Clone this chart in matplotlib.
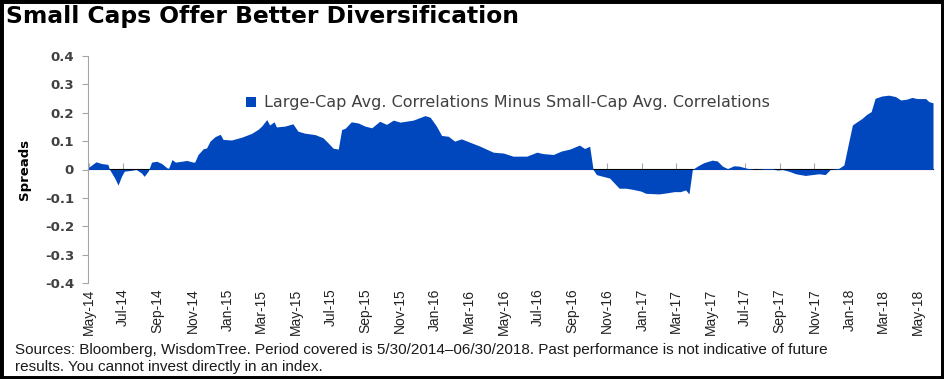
import matplotlib
matplotlib.use("Agg")
import matplotlib.pyplot as plt
from matplotlib.patches import Rectangle
import pandas as pd

# spread series (large-cap minus small-cap avg. correlation)
dates = [
    "2014-05-30", "2014-06-13", "2014-06-23", "2014-07-04", "2014-07-07", "2014-07-16",
    "2014-07-22", "2014-07-28", "2014-08-02", "2014-08-14", "2014-08-23", "2014-09-01",
    "2014-09-06", "2014-09-13", "2014-09-19", "2014-09-28", "2014-10-07", "2014-10-16",
    "2014-10-19", "2014-10-25", "2014-10-31", "2014-11-11", "2014-11-20", "2014-12-01",
    "2014-12-04", "2014-12-10", "2014-12-19", "2014-12-25", "2014-12-31", "2015-01-09",
    "2015-01-18", "2015-01-23", "2015-02-07", "2015-02-25", "2015-03-14", "2015-03-26",
    "2015-04-01", "2015-04-10", "2015-04-15", "2015-04-23", "2015-04-27", "2015-05-12",
    "2015-05-26", "2015-06-04", "2015-06-16", "2015-07-04", "2015-07-18", "2015-07-27",
    "2015-08-05", "2015-08-14", "2015-08-20", "2015-08-26", "2015-09-06", "2015-09-18",
    "2015-09-30", "2015-10-12", "2015-10-26", "2015-11-07", "2015-11-19", "2015-12-01",
    "2015-12-24", "2016-01-14", "2016-01-23", "2016-02-03", "2016-02-12", "2016-02-24",
    "2016-03-06", "2016-03-18", "2016-04-02", "2016-04-20", "2016-05-13", "2016-05-31",
    "2016-06-17", "2016-07-11", "2016-07-29", "2016-08-09", "2016-08-27", "2016-09-10",
    "2016-09-25", "2016-10-12", "2016-10-21", "2016-10-30", "2016-11-05", "2016-11-11",
    "2016-11-22", "2016-12-04", "2016-12-21", "2017-01-02", "2017-01-14", "2017-01-28",
    "2017-02-06", "2017-03-01", "2017-03-16", "2017-03-28", "2017-04-08", "2017-04-17",
    "2017-04-23", "2017-04-29", "2017-05-08", "2017-05-19", "2017-06-03", "2017-06-12",
    "2017-06-21", "2017-06-30", "2017-07-11", "2017-07-20", "2017-08-04", "2017-08-19",
    "2017-09-02", "2017-09-17", "2017-09-26", "2017-10-04", "2017-10-16", "2017-10-28",
    "2017-11-14", "2017-11-26", "2017-12-08", "2017-12-19", "2017-12-28", "2018-01-12",
    "2018-01-21", "2018-01-29", "2018-02-05", "2018-02-13", "2018-02-22", "2018-03-02",
    "2018-03-10", "2018-03-17", "2018-03-29", "2018-04-10", "2018-04-22", "2018-05-01",
    "2018-05-12", "2018-05-21", "2018-05-30", "2018-06-14", "2018-06-20", "2018-06-27",
]
spreads = [
    0.006, 0.027, 0.021, 0.018, 0.000, -0.030,
    -0.055, -0.024, -0.006, -0.003, 0.000, -0.012,
    -0.024, -0.006, 0.026, 0.029, 0.021, 0.006,
    0.004, 0.035, 0.026, 0.029, 0.032, 0.026,
    0.026, 0.053, 0.073, 0.076, 0.100, 0.116,
    0.124, 0.106, 0.104, 0.114, 0.127, 0.142,
    0.153, 0.176, 0.157, 0.168, 0.150, 0.153,
    0.161, 0.135, 0.128, 0.123, 0.112, 0.094,
    0.075, 0.072, 0.141, 0.145, 0.168, 0.164,
    0.153, 0.147, 0.170, 0.159, 0.174, 0.167,
    0.174, 0.190, 0.184, 0.153, 0.120, 0.117,
    0.100, 0.108, 0.096, 0.082, 0.061, 0.058,
    0.047, 0.047, 0.061, 0.056, 0.053, 0.065,
    0.072, 0.086, 0.074, 0.082, 0.000, -0.018,
    -0.024, -0.030, -0.066, -0.066, -0.070, -0.076,
    -0.084, -0.086, -0.082, -0.078, -0.078, -0.072,
    -0.086, 0.000, 0.012, 0.024, 0.033, 0.030,
    0.012, 0.003, 0.013, 0.012, 0.004, 0.000,
    0.003, 0.003, -0.002, 0.000, -0.006, -0.015,
    -0.021, -0.018, -0.015, -0.018, 0.000, 0.004,
    0.016, 0.092, 0.157, 0.168, 0.180, 0.194,
    0.204, 0.251, 0.259, 0.262, 0.257, 0.245,
    0.248, 0.254, 0.250, 0.250, 0.239, 0.235,
]
yticks = [0.4, 0.3, 0.2, 0.1, 0, -0.1, -0.2, -0.3, -0.4]
ytick_labels = ["0.4", "0.3", "0.2", "0.1", "0", "-0.1", "-0.2", "-0.3", "-0.4"]
xtick_dates = pd.date_range("2014-05-31", "2018-05-31", freq="2ME")

series_label = "Large-Cap Avg. Correlations Minus Small-Cap Avg. Correlations"
title = "Small Caps Offer Better Diversification"
note_lines = [
    "Sources: Bloomberg, WisdomTree. Period covered is 5/30/2014\u201306/30/2018. "
    "Past performance is not indicative of future",
    "results. You cannot invest directly in an index.",
]

blue = "#0047BD"
grey = "#A6A6A6"
d = pd.to_datetime(dates)

fig = plt.figure(figsize=(9.44, 3.79), dpi=100)
ax = fig.add_axes([88 / 944, 1 - 283 / 379, (933 - 88) / 944, (283 - 56) / 379])

ax.fill_between(d, spreads, 0, color=blue, lw=0, label=series_label)
ax.set_xlim(d[0], d[-1])
ax.set_ylim(-0.4, 0.4)

ax.set_yticks(yticks)
ax.set_yticklabels(ytick_labels, fontsize=9.5, fontweight="bold", color="#404040")
ax.tick_params(axis="y", length=4, color=grey, pad=6)

ax.set_xticks(xtick_dates)
ax.set_xticklabels([t.strftime("%b-%y") for t in xtick_dates], rotation=90,
                   family="Liberation Sans", fontsize=10, color="#222222")
ax.tick_params(axis="x", length=0, pad=4)

for s in ["top", "right", "bottom"]:
    ax.spines[s].set_visible(False)
ax.spines["left"].set_color(grey)

# zero line carrying the x tick marks
zero = ax.secondary_xaxis(0.5)
zero.set_xticks(xtick_dates)
zero.set_xticklabels([])
zero.tick_params(length=4, color=grey)
zero.spines["bottom"].set_color(grey)

ax.set_ylabel("Spreads", fontsize=9.5, fontweight="bold", labelpad=10)

ax.legend(loc="upper left", bbox_to_anchor=(0.17, 0.89), frameon=False,
          handlelength=0.6, handleheight=0.6, handletextpad=0.5,
          prop={"size": 11.5}, labelcolor="#404040")

fig.text(6 / 944, 1 - 17 / 379, title, fontsize=16.8, fontweight="bold", va="center")
for i, line in enumerate(note_lines):
    fig.text(15 / 944, 1 - (350 + 17 * i) / 379, line, family="Liberation Sans",
             fontsize=11, va="center", color="#1a1a1a")

fig.patches.append(Rectangle((0, 0), 1, 1, transform=fig.transFigure, fill=False,
                             edgecolor="black", lw=5))

fig.savefig("out.png", dpi=100)
